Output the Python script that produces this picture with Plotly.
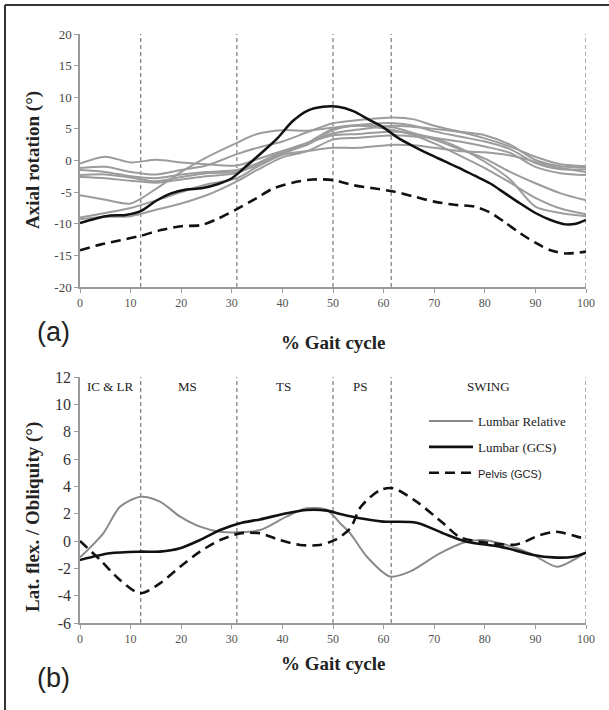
import plotly.graph_objects as go

# ---------------- data ----------------
PHASE_X = [12, 31, 50, 61.5, 100]
PHASE_NAMES = ["IC & LR", "MS", "TS", "PS", "SWING"]
PHASE_LABEL_X = [6.1, 21.3, 40.3, 55.3, 80.8]

X_TICKS = [0, 10, 20, 30, 40, 50, 60, 70, 80, 90, 100]
Y_TICKS_A = [-20, -15, -10, -5, 0, 5, 10, 15, 20]
Y_TICKS_B = [-6, -4, -2, 0, 2, 4, 6, 8, 10, 12]

# (a) axial rotation - individual (grey) curves
XG = [0, 5, 10, 15, 20, 25, 31, 35, 40, 45, 50, 55, 62, 66, 70, 75, 80, 85, 90, 95, 100]
gray_A = [-0.5, 0.6, -0.3, 0.1, -0.3, -0.6, -0.8, 0.2, 1.5, 2.7, 4.3, 4.9, 5.5, 5.3, 5.0, 4.5, 3.5, 2.2, 0.6, -0.6, -0.9]
gray_B = [-1.2, -1.0, -1.8, -2.2, -1.5, -0.8, 1.0, 2.0, 3.0, 4.5, 5.9, 6.4, 6.8, 6.5, 5.5, 4.6, 4.0, 2.5, 0.1, -0.9, -1.1]
gray_C = [-1.5, -1.8, -2.5, -2.8, -2.2, -1.8, -1.5, -0.5, 1.2, 2.5, 4.8, 5.6, 5.9, 5.5, 4.6, 3.8, 3.0, 1.8, -0.4, -1.4, -1.4]
gray_D = [-2.3, -2.2, -2.7, -3.3, -2.6, -2.0, -1.8, -0.8, 0.9, 1.5, 2.0, 2.0, 2.5, 2.4, 2.0, 1.5, 1.3, 0.8, -0.2, -1.2, -1.8]
gray_E = [-2.6, -2.8, -3.2, -3.5, -3.0, -2.5, -2.0, -0.5, 1.4, 2.8, 4.0, 4.2, 4.6, 4.2, 3.6, 3.0, 2.2, 1.2, -1.0, -2.0, -2.3]
gray_F = [-5.5, -6.2, -6.8, -4.5, -1.8, 0.5, 2.8, 4.2, 4.8, 4.7, 5.2, 5.6, 5.2, 4.3, 3.3, 1.8, 0.3, -1.8, -3.6, -5.2, -6.3]
gray_G = [-9.0, -8.3, -7.5, -6.3, -5.0, -3.8, -2.8, -1.0, 1.0, 2.8, 5.0, 5.5, 4.8, 4.0, 2.7, 0.8, -1.2, -3.5, -5.9, -7.6, -8.5]
gray_H = [-9.3, -8.9, -8.8, -7.8, -6.8, -5.5, -3.3, -1.5, 0.5, 1.5, 3.3, 3.6, 4.0, 3.8, 3.5, 2.0, -0.2, -3.0, -7.3, -8.3, -8.8]
GRAY_SERIES = [gray_A, gray_B, gray_C, gray_D, gray_E, gray_F, gray_G, gray_H]

# (a) lumbar (GCS) - black solid
XA_L = [0, 3, 6, 9, 12, 15, 18, 21, 24, 27, 30, 33, 36, 39, 42, 45, 48, 51, 54, 57, 60, 63, 66, 69, 72, 75, 78, 81, 84, 87, 90, 93, 96, 98, 100]
YA_L = [-9.9, -9.2, -8.7, -8.6, -8.0, -6.4, -5.2, -4.6, -4.4, -3.8, -2.8, -0.8, 1.3, 3.5, 6.2, 7.9, 8.5, 8.5, 7.8, 6.5, 5.2, 3.5, 2.2, 1.0, -0.1, -1.2, -2.4, -3.6, -5.2, -6.8, -8.3, -9.4, -10.1, -10.0, -9.4]
# (a) pelvis (GCS) - black dashed
XA_P = [0, 4, 8, 12, 16, 20, 24, 27, 31, 35, 38, 42, 46, 50, 54, 58, 62, 66, 70, 74, 78, 81, 84, 87, 90, 93, 96, 100]
YA_P = [-14.2, -13.3, -12.6, -11.9, -11.0, -10.4, -10.2, -9.3, -7.7, -5.9, -4.5, -3.5, -3.0, -3.1, -3.9, -4.4, -4.9, -5.7, -6.5, -7.0, -7.3, -8.2, -9.8, -11.5, -13.0, -14.2, -14.7, -14.4]

# (b) lateral flexion / obliquity
XB_R = [0, 4.6, 7.9, 12, 15.8, 19.8, 23.7, 27.7, 31.6, 35.6, 40.8, 44.8, 48.8, 51.4, 53.4, 56.7, 61.3, 65.2, 71.1, 76.4, 79.7, 83, 86.3, 89.6, 94.2, 97.5, 100]
YB_R = [-1.2, 0.56, 2.5, 3.24, 2.88, 1.78, 1.05, 0.68, 0.64, 0.8, 1.78, 2.39, 2.27, 1.3, 0.56, -1.15, -2.6, -2.24, -0.9, -0.05, 0.07, -0.17, -0.53, -1.02, -1.88, -1.39, -0.85]
XB_L = [0, 5.9, 11.9, 15.8, 19.8, 23.7, 27.7, 31.6, 35.6, 40.8, 44.8, 48.8, 51.4, 55.3, 59.9, 66.5, 71.8, 76.4, 83, 89.6, 93.5, 97.5, 100]
YB_L = [-1.39, -0.9, -0.78, -0.78, -0.53, 0.07, 0.8, 1.3, 1.58, 2.03, 2.27, 2.22, 1.98, 1.66, 1.42, 1.34, 0.56, -0.05, -0.41, -1.02, -1.2, -1.15, -0.85]
XB_P = [0, 4, 7.9, 11.9, 15.8, 19.8, 23.7, 27.7, 31.6, 35.6, 39.5, 43.5, 47.4, 50.5, 53.4, 55.5, 59.3, 61.9, 66.5, 71.8, 75, 80, 86.3, 90.9, 94.2, 98.2, 100]
YB_P = [0.0, -1.39, -2.85, -3.82, -3.1, -1.88, -0.78, 0.07, 0.56, 0.56, 0.07, -0.29, -0.29, 0.1, 0.93, 2.5, 3.73, 3.86, 2.88, 1.29, 0.3, -0.1, -0.25, 0.44, 0.68, 0.32, 0.14]

# ---------------- figure ----------------
W, H = 609, 710
def px_x(p):
    return p / W
def px_y(p):
    return 1 - p / H

GRAY = "#9c9c9c"
AXC = "#9a9a9a"
SERIF = "Liberation Serif, Times New Roman, serif"
SANS = "Liberation Sans, Arial, sans-serif"

fig = go.Figure()

for ys in GRAY_SERIES:
    fig.add_trace(go.Scatter(x=XG, y=ys, mode="lines", line=dict(color=GRAY, width=2, shape="spline", smoothing=0.8),
                             showlegend=False, xaxis="x", yaxis="y", hoverinfo="skip", cliponaxis=False))
fig.add_trace(go.Scatter(x=XA_L, y=YA_L, mode="lines", line=dict(color="#111111", width=2.5, shape="spline", smoothing=0.8),
                         showlegend=False, xaxis="x", yaxis="y", cliponaxis=False))
fig.add_trace(go.Scatter(x=XA_P, y=YA_P, mode="lines", line=dict(color="#111111", width=2.6, dash="10px,6px", shape="spline", smoothing=0.8),
                         showlegend=False, xaxis="x", yaxis="y", cliponaxis=False))

fig.add_trace(go.Scatter(x=XB_R, y=YB_R, mode="lines", name="Lumbar Relative", legendgroup="g1", cliponaxis=False,
                         line=dict(color="#8a8a8a", width=2, shape="spline", smoothing=0.8), xaxis="x2", yaxis="y2"))
fig.add_trace(go.Scatter(x=XB_L, y=YB_L, mode="lines", name="Lumbar (GCS)", legendgroup="g2", cliponaxis=False,
                         line=dict(color="#111111", width=2.6, shape="spline", smoothing=0.8), xaxis="x2", yaxis="y2"))
fig.add_trace(go.Scatter(x=XB_P, y=YB_P, mode="lines", legendgroup="g3", cliponaxis=False,
                         name="<span style='font-family:Liberation Sans;font-size:11px'>Pelvis (GCS)</span>",
                         line=dict(color="#111111", width=2.6, dash="10px,6px", shape="spline", smoothing=0.8), xaxis="x2", yaxis="y2"))

# phase boundary dashed lines
for px_ in PHASE_X:
    for xr, yr in (("x", "y domain"), ("x2", "y2 domain")):
        fig.add_shape(type="line", xref=xr, yref=yr, x0=px_, x1=px_, y0=0, y1=1,
                      line=dict(color="#7a7a7a", width=1.2, dash="4px,3px"), layer="below")

for name, lx in zip(PHASE_NAMES, PHASE_LABEL_X):
    fig.add_annotation(x=lx, y=11.27, xref="x2", yref="y2", text=name, showarrow=False,
                       xanchor="center", yanchor="middle",
                       font=dict(family=SERIF, size=13, color="#222"))

xd = [px_x(80), px_x(586)]
axis_common = dict(showline=True, linecolor=AXC, linewidth=1.5, ticks="outside", ticklen=4,
                   tickcolor=AXC, tickwidth=1.2, showgrid=False, zeroline=False, automargin=False)

def tt(vals):
    return [str(v) for v in vals]

fig.update_layout(
    width=W, height=H, autosize=False,
    margin=dict(l=0, r=0, t=0, b=0, pad=0),
    paper_bgcolor="white", plot_bgcolor="white",
    xaxis=dict(domain=xd, range=[0, 100], tickvals=X_TICKS, ticktext=tt(X_TICKS), anchor="y",
               tickfont=dict(family=SERIF, size=12, color="#555"), **axis_common),
    yaxis=dict(domain=[px_y(287), px_y(34)], range=[-20, 20], tickvals=Y_TICKS_A, ticktext=tt(Y_TICKS_A), anchor="x",
               tickfont=dict(family=SERIF, size=13, color="#444"), **axis_common),
    xaxis2=dict(domain=xd, range=[0, 100], tickvals=X_TICKS, ticktext=tt(X_TICKS), anchor="y2",
                tickfont=dict(family=SERIF, size=12, color="#555"), **axis_common),
    yaxis2=dict(domain=[px_y(623), px_y(377)], range=[-6, 12], tickvals=Y_TICKS_B, ticktext=tt(Y_TICKS_B), anchor="x2",
                tickfont=dict(family=SERIF, size=16, color="#333"), **axis_common),
    legend=dict(x=px_x(424), y=px_y(406), xanchor="left", yanchor="top", bgcolor="rgba(0,0,0,0)",
                font=dict(family=SERIF, size=13, color="#222"), tracegroupgap=6, itemwidth=44),
    showlegend=True,
)

def paper_text(x, y, text, size, family, angle=0):
    fig.add_annotation(x=px_x(x), y=px_y(y), xref="paper", yref="paper", text=text, textangle=angle,
                       xanchor="center", yanchor="middle", showarrow=False,
                       font=dict(family=family, size=size, color="#222"))

# axis titles and panel labels
paper_text(33, 160, "<b>Axial rotation (°)</b>", 19, SERIF, -90)
paper_text(33, 517, "<b>Lat. flex. / Obliquity (°)</b>", 19, SERIF, -90)
paper_text(333, 342, "<b>% Gait cycle</b>", 19, SERIF)
paper_text(333, 663, "<b>% Gait cycle</b>", 19, SERIF)
paper_text(53, 332, "(a)", 27, SANS)
paper_text(53, 678, "(b)", 27, SANS)

# outer frame (top and left edges)
fig.add_shape(type="line", xref="paper", yref="paper", x0=px_x(5), x1=1.02, y0=px_y(5), y1=px_y(5),
              line=dict(color="#333", width=2))
fig.add_shape(type="line", xref="paper", yref="paper", x0=px_x(5), x1=px_x(5), y0=-0.02, y1=px_y(5),
              line=dict(color="#333", width=2))

fig.write_html("out.html", config={"displayModeBar": False},
               post_script="document.body.style.margin='0';document.body.style.overflow='hidden';")
